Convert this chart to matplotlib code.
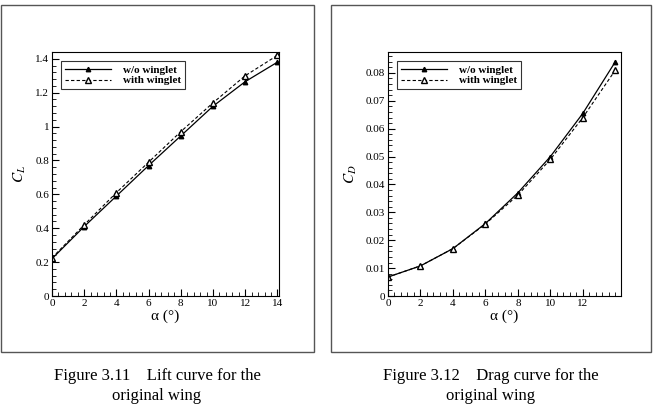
import matplotlib
matplotlib.use("Agg")
import matplotlib.pyplot as plt
from matplotlib.patches import Rectangle
from matplotlib.ticker import MultipleLocator, AutoMinorLocator

plt.rcParams['font.family'] = ['Liberation Serif', 'DejaVu Serif']
plt.rcParams['mathtext.fontset'] = 'stix'

alpha = [0, 2, 4, 6, 8, 10, 12, 14]
cl_without = [0.22, 0.41, 0.59, 0.77, 0.945, 1.12, 1.265, 1.38]
cl_with = [0.225, 0.42, 0.61, 0.79, 0.97, 1.14, 1.30, 1.42]
cd_without = [0.0068, 0.0108, 0.0170, 0.0260, 0.0370, 0.0500, 0.0655, 0.0840]
cd_with = [0.0068, 0.0108, 0.0170, 0.0258, 0.0362, 0.0490, 0.0640, 0.0810]
labels = ["w/o winglet", "with winglet"]
captions = ["Figure 3.11    Lift curve for the\noriginal wing",
            "Figure 3.12    Drag curve for the\noriginal wing"]

W, H = 655, 417
fig = plt.figure(figsize=(W / 100, H / 100), dpi=100)


def px_box(x0, y0, x1, y1):
    # pixel box (top-left origin) -> figure fraction [l, b, w, h]
    return [x0 / W, 1 - y1 / H, (x1 - x0) / W, (y1 - y0) / H]


# outer frames
for x0, x1 in [(1, 314), (331, 651)]:
    l, b, w, h = px_box(x0, 5, x1, 352)
    fig.add_artist(Rectangle((l, b), w, h, transform=fig.transFigure,
                             fill=False, edgecolor="#555555", linewidth=1.0))


def style(ax):
    ax.tick_params(which="both", direction="in", top=False, right=False,
                   labelsize=8, pad=2)
    ax.tick_params(which="major", length=5, width=0.8)
    ax.tick_params(which="minor", length=3, width=0.6)
    ax.xaxis.set_minor_locator(AutoMinorLocator(5))
    ax.yaxis.set_minor_locator(AutoMinorLocator(5))
    for s in ax.spines.values():
        s.set_linewidth(0.8)
    leg = ax.legend(loc="upper left", frameon=True, fancybox=False,
                    prop={"weight": "bold", "size": 8}, handlelength=4.2,
                    borderpad=0.35, labelspacing=0.1, handletextpad=1.0,
                    borderaxespad=0.8)
    leg.get_frame().set_edgecolor("black")
    leg.get_frame().set_linewidth(0.8)


ax1 = fig.add_axes(px_box(52, 52, 279, 296))
ax1.plot(alpha, cl_without, "-", color="black", lw=0.9, marker="^", ms=3.2,
         mfc="black", label=labels[0])
ax1.plot(alpha, cl_with, "--", color="black", lw=0.8, marker="^", ms=4,
         mfc="white", dashes=(3, 2), label=labels[1])
ax1.set_xlim(0, 14.1)
ax1.set_ylim(0, 1.44)
ax1.xaxis.set_major_locator(MultipleLocator(2))
ax1.set_yticks([0, 0.2, 0.4, 0.6, 0.8, 1.0, 1.2, 1.4])
ax1.set_yticklabels(["0", "0.2", "0.4", "0.6", "0.8", "1", "1.2", "1.4"])
ax1.set_xlabel("α (°)", fontsize=11, labelpad=1)
ax1.set_ylabel(r"$C_L$", fontsize=11, labelpad=5)
style(ax1)

ax2 = fig.add_axes(px_box(388, 52, 621, 296))
ax2.plot(alpha, cd_without, "-", color="black", lw=0.9, marker="^", ms=3.2,
         mfc="black", label=labels[0])
ax2.plot(alpha, cd_with, "--", color="black", lw=0.8, marker="^", ms=4,
         mfc="white", dashes=(3, 2), label=labels[1])
ax2.set_xlim(0, 14.35)
ax2.set_ylim(0, 0.0875)
ax2.set_xticks([0, 2, 4, 6, 8, 10, 12])
ax2.set_yticks([0, 0.01, 0.02, 0.03, 0.04, 0.05, 0.06, 0.07, 0.08])
ax2.set_yticklabels(["0", "0.01", "0.02", "0.03", "0.04", "0.05", "0.06",
                     "0.07", "0.08"])
ax2.set_xlabel("α (°)", fontsize=11, labelpad=1)
ax2.set_ylabel(r"$C_D$", fontsize=11, labelpad=5)
style(ax2)
ax2.xaxis.set_minor_locator(MultipleLocator(0.4))

for cx, txt in zip([157, 491], captions):
    fig.text(cx / W, 1 - 386 / H, txt, ha="center", va="center",
             fontsize=12, linespacing=1.25)

fig.savefig("out.png", dpi=100)
